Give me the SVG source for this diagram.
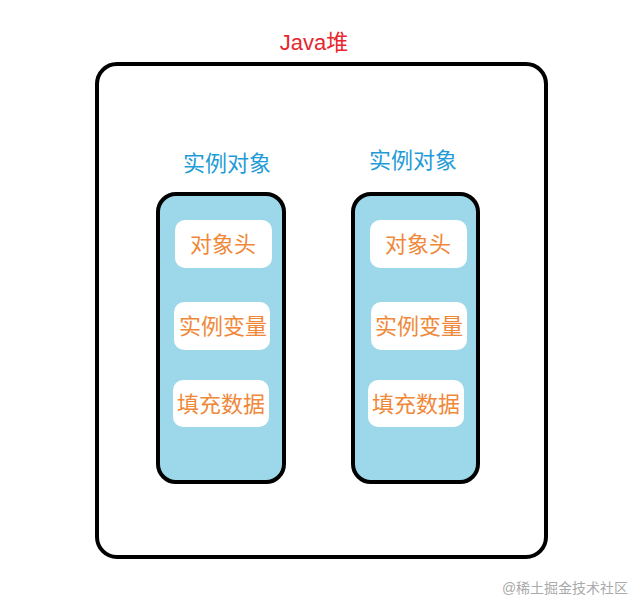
<svg xmlns="http://www.w3.org/2000/svg" width="641" height="612" viewBox="0 0 641 612">
<style>
.t{font-family:"Liberation Sans","Noto Sans CJK SC",sans-serif;text-anchor:middle}
.col{fill:#9dd8ea;stroke:#000;stroke-width:4}
.cell{fill:#fff;stroke:none}
.ct{font-size:22px;fill:#f0883a}
.lb{font-size:22px;fill:#1f9bd7}
</style>
<rect width="641" height="612" fill="#fff"/>
<g id="heap">
<rect x="97" y="64" width="449" height="493" rx="20" fill="#fff" stroke="#000" stroke-width="4"/>
<text class="t" x="314" y="50" font-size="22" fill="#e8262d">Java堆</text>
</g>
<g id="obj1">
<text class="t lb" x="227" y="171">实例对象</text>
<rect class="col" x="158" y="194" width="126" height="288" rx="18"/>
<rect class="cell" x="175" y="220" width="97" height="48" rx="10"/>
<text class="t ct" x="223" y="252">对象头</text>
<rect class="cell" x="174" y="302" width="96" height="48" rx="10"/>
<text class="t ct" x="223" y="334">实例变量</text>
<rect class="cell" x="173" y="380" width="96" height="47" rx="10"/>
<text class="t ct" x="221" y="412">填充数据</text>
</g>
<g id="obj2">
<text class="t lb" x="413" y="168">实例对象</text>
<rect class="col" x="353" y="194" width="125" height="288" rx="18"/>
<rect class="cell" x="370" y="220" width="97" height="48" rx="10"/>
<text class="t ct" x="418" y="252">对象头</text>
<rect class="cell" x="371" y="302" width="96" height="48" rx="10"/>
<text class="t ct" x="419" y="334">实例变量</text>
<rect class="cell" x="368" y="380" width="96" height="47" rx="10"/>
<text class="t ct" x="416" y="412">填充数据</text>
</g>
<g id="connectors"></g>
<text class="t" x="565" y="593" font-size="14" fill="#aaa">@稀土掘金技术社区</text>
</svg>
